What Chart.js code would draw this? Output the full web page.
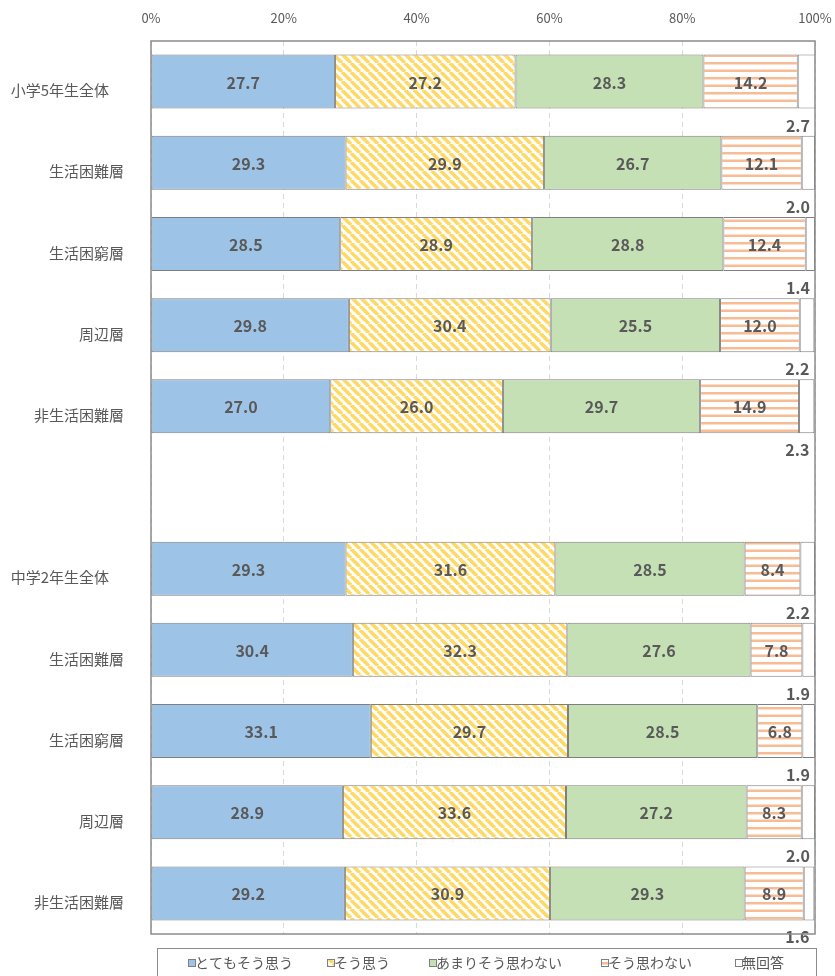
<!DOCTYPE html>
<html><head><meta charset="utf-8">
<script src="https://cdn.jsdelivr.net/npm/chart.js@4/dist/chart.umd.min.js"></script>
<style>html,body{margin:0;padding:0;background:#fff}</style>
</head><body><canvas id="c" width="835" height="976"></canvas>
<script>
const categories = ['小学5年生全体　','生活困難層','生活困窮層','周辺層','非生活困難層','','中学2年生全体　','生活困難層','生活困窮層','周辺層','非生活困難層'];
const seriesNames = ['とてもそう思う','そう思う','あまりそう思わない','そう思わない','無回答'];
const veryMuch = [27.7,29.3,28.5,29.8,27.0,null,29.3,30.4,33.1,28.9,29.2];
const agree    = [27.2,29.9,28.9,30.4,26.0,null,31.6,32.3,29.7,33.6,30.9];
const notMuch  = [28.3,26.7,28.8,25.5,29.7,null,28.5,27.6,28.5,27.2,29.3];
const disagree = [14.2,12.1,12.4,12.0,14.9,null,8.4,7.8,6.8,8.3,8.9];
const noAnswer = [2.7,2.0,1.4,2.2,2.3,null,2.2,1.9,1.9,2.0,1.6];
const xTicks = [0,20,40,60,80,100];

const FONT = '"Noto Sans CJK JP", "Noto Sans", sans-serif';
const TXT = '#595959';
const canvas = document.getElementById('c');
const mainCtx = canvas.getContext('2d');

function diagPattern(color, size, w){
  const c = document.createElement('canvas'); c.width = c.height = size;
  const g = c.getContext('2d');
  g.fillStyle = '#fff'; g.fillRect(0,0,size,size);
  g.strokeStyle = color; g.lineWidth = w; g.beginPath();
  for (const k of [-size,0,size]) { g.moveTo(k,0); g.lineTo(k+size,size); }
  g.stroke();
  return mainCtx.createPattern(c,'repeat');
}
function hPattern(color){
  const c = document.createElement('canvas'); c.width = 8; c.height = 15;
  const g = c.getContext('2d');
  g.fillStyle = '#fff'; g.fillRect(0,0,8,15);
  g.fillStyle = color; g.fillRect(0,2,8,2.5); g.fillRect(0,9.5,8,2.5);
  return mainCtx.createPattern(c,'repeat');
}
const fills = ['#9DC3E6', diagPattern('#FFD966',9,3.6), '#C5E0B4', hPattern('#F8BC95'), '#FFFFFF'];
const seriesData = [veryMuch, agree, notMuch, disagree, noAnswer];

const valueLabels = {
  id:'valueLabels',
  afterDatasetsDraw(chart){
    const ctx = chart.ctx; ctx.save();
    ctx.font = 'bold 16px ' + FONT; ctx.fillStyle = TXT; ctx.textBaseline = 'middle';
    chart.data.datasets.forEach((ds,di)=>{
      chart.getDatasetMeta(di).data.forEach((bar,i)=>{
        const v = ds.data[i]; if (v == null) return;
        const p = bar.getProps(['x','y','base','height'], true);
        if (di < 4) { ctx.textAlign = 'center'; ctx.fillText(v.toFixed(1), (p.x+p.base)/2, p.y+1); }
        else { ctx.textAlign = 'right'; const xr = Math.min(p.x, chart.chartArea.right); ctx.fillText(v.toFixed(1), xr-5, p.y + p.height/2 + 17); }
      });
    });
    ctx.restore();
  }
};
// legend item anchor positions (layout only)
const legendX = [188, 327, 429, 601, 735];
const frames = {
  id:'frames',
  afterDatasetsDraw(chart){
    const {ctx, chartArea:a} = chart; ctx.save();
    ctx.strokeStyle = '#8c8c8c'; ctx.lineWidth = 1.5;
    ctx.strokeRect(a.left, a.top, a.right-a.left, a.bottom-a.top);
    ctx.restore();
  },
  afterDraw(chart){
    const ctx = chart.ctx; ctx.save();
    ctx.strokeStyle = '#8c8c8c'; ctx.lineWidth = 1;
    ctx.strokeRect(157.5, 948.5, 659, 40);
    ctx.font = '14px ' + FONT; ctx.fillStyle = TXT; ctx.textBaseline = 'middle'; ctx.textAlign = 'left';
    chart.data.datasets.forEach((ds,i)=>{
      const x = legendX[i], y = 963;
      ctx.fillStyle = ds.backgroundColor; ctx.fillRect(x+0.5, y-3.5, 7, 7);
      ctx.strokeStyle = '#7f7f7f'; ctx.lineWidth = 1; ctx.strokeRect(x+0.5, y-3.5, 7, 7);
      ctx.fillStyle = TXT; ctx.fillText(ds.label, x+7, y);
    });
    ctx.restore();
  }
};

new Chart(canvas, {
  type:'bar',
  data:{
    labels: categories,
    datasets: seriesNames.map((n,i)=>({
      label:n, data:seriesData[i], backgroundColor:fills[i],
      borderColor:'#7f7f7f', borderWidth:1, borderSkipped:false,
      barPercentage:0.665, categoryPercentage:1
    }))
  },
  options:{
    indexAxis:'y', responsive:false, animation:false, devicePixelRatio:1,
    events:[],
    layout:{padding:{top:0,right:20,bottom:42,left:0}},
    scales:{
      x:{
        position:'top', stacked:true, min:0, max:100,
        afterBuildTicks(s){ s.ticks = xTicks.map(v=>({value:v})); },
        afterFit(s){ s.height = 41; s.paddingLeft = 0; s.paddingRight = 0; },
        ticks:{ callback:v=>v+'%', font:{family:FONT,size:13}, color:TXT, padding:15 },
        grid:{ color:'#d9d9d9', drawTicks:false, tickLength:0 },
        border:{ display:false, dash:[5,4] }
      },
      y:{
        stacked:true,
        afterFit(s){ s.width = 151; },
        ticks:{ font:{family:FONT,size:15}, color:TXT, padding:19, labelOffset:9 },
        grid:{ display:false }, border:{ display:false }
      }
    },
    plugins:{
      tooltip:{enabled:false},
      legend:{ display:false }
    }
  },
  plugins:[valueLabels, frames]
});
</script></body></html>
